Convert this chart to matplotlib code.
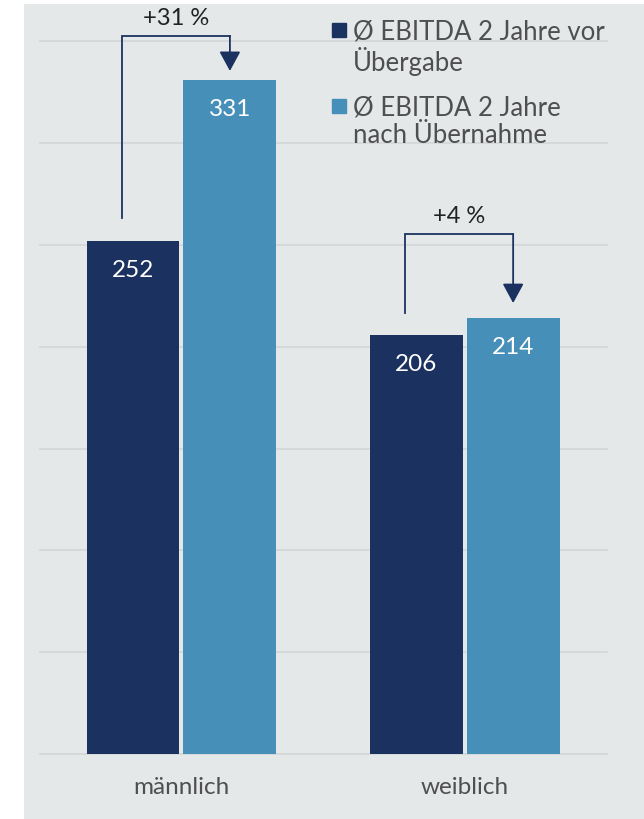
import matplotlib
matplotlib.use('Agg')
import matplotlib.pyplot as plt
from matplotlib.patches import Rectangle
import numpy as np

# data
categories = ['männlich', 'weiblich']
vor_uebergabe = [252, 206]
nach_uebernahme = [331, 214]
change_labels = ['+31 %', '+4 %']
legend_labels = ['Ø EBITDA 2 Jahre vor\nÜbergabe', 'Ø EBITDA 2 Jahre\nnach Übernahme']

DARK = '#1b3260'
LIGHT = '#468fb9'
BG = '#e4e8e9'
GRID = '#d3d6d8'
TXT = '#4f4f4f'

plt.rcParams['font.family'] = ['Lato', 'DejaVu Sans']

fig = plt.figure(figsize=(6.44, 8.19), dpi=100)
ax = fig.add_axes([24 / 644, 0, 620 / 644, 815 / 819])
ax.set_facecolor(BG)
for s in ax.spines.values():
    s.set_visible(False)
ax.set_xticks([])
ax.set_yticks([])
ax.set_xlim(-0.556, 1.633)
ax.set_ylim(-31.9, 368.4)

# gridlines every 50
for g in range(0, 351, 50):
    ax.plot([-0.501, 1.502], [g, g], color=GRID, lw=1.2, zorder=0)

x = np.arange(len(categories))
off = 0.171
w = 0.328
ax.bar(x - off, vor_uebergabe, width=w, color=DARK, zorder=2)
ax.bar(x + off, nach_uebernahme, width=w, color=LIGHT, zorder=2)

for xi, v in zip(x - off, vor_uebergabe):
    ax.text(xi, v - 14.5, str(v), color='white', ha='center', va='center', fontsize=17.5, zorder=3)
for xi, v in zip(x + off, nach_uebernahme):
    ax.text(xi, v - 14.5, str(v), color='white', ha='center', va='center', fontsize=17.5, zorder=3)

for xi, c in zip(x, categories):
    ax.text(xi, -16.2, c, color=TXT, ha='center', va='center', fontsize=17.5)

# brackets with arrows
bracket_start = [263.3, 216.7]
bracket_top = [352.7, 255.4]
bracket_tip = [335.5, 221.5]
for i in range(len(categories)):
    xl = x[i] - off - 0.04
    xr = x[i] + off
    ax.plot([xl, xl, xr], [bracket_start[i], bracket_top[i], bracket_top[i]],
            color=DARK, lw=1.3, solid_joinstyle='miter', zorder=3)
    ax.annotate('', xy=(xr, bracket_tip[i]), xytext=(xr, bracket_top[i]),
                arrowprops=dict(arrowstyle='-|>,head_length=1.2,head_width=0.65',
                                mutation_scale=10, color=DARK, lw=1.3,
                                shrinkA=0, shrinkB=0), zorder=3)
    ax.text((xl + xr) / 2, bracket_top[i] + 8.5, change_labels[i], color='#222222',
            ha='center', va='center', fontsize=17)

# legend (manual)
def fx(px):
    return (px - 24) / 620

def fy(py):
    return (819 - py) / 815

sq_top = [23, 99]
txt_center = [47.5, 122]
for i, (lab, col) in enumerate(zip(legend_labels, [DARK, LIGHT])):
    ax.add_patch(Rectangle((fx(332), fy(sq_top[i] + 14)), 14 / 620, 14 / 815,
                           transform=ax.transAxes, color=col, zorder=3))
    ax.text(fx(353), fy(txt_center[i]), lab, transform=ax.transAxes, color=TXT,
            ha='left', va='center', fontsize=18.5, linespacing=1.12)

fig.savefig('out.png', dpi=100, facecolor='white')
